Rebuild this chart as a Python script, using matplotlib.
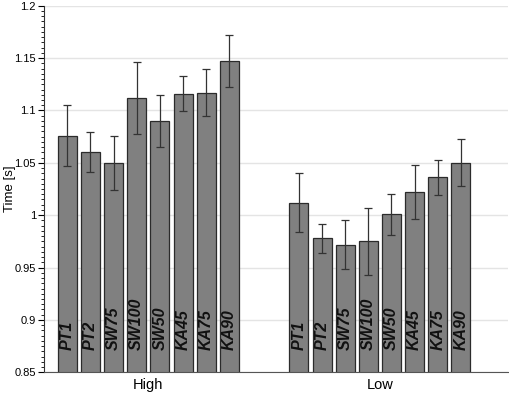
import numpy as np
import matplotlib
matplotlib.use('Agg')
import matplotlib.pyplot as plt
from matplotlib.ticker import MultipleLocator

plt.rcParams['font.family'] = ['Liberation Sans', 'DejaVu Sans']

groups = ['High', 'Low']
conditions = ['PT1', 'PT2', 'SW75', 'SW100', 'SW50', 'KA45', 'KA75', 'KA90']
high_mean = [1.076, 1.060, 1.050, 1.112, 1.090, 1.116, 1.117, 1.147]
high_err = [0.029, 0.019, 0.026, 0.034, 0.0245, 0.0167, 0.0225, 0.025]
low_mean = [1.012, 0.978, 0.972, 0.975, 1.001, 1.022, 1.036, 1.050]
low_err = [0.0285, 0.014, 0.023, 0.032, 0.0195, 0.026, 0.0168, 0.0225]

fig = plt.figure(figsize=(5.1, 3.94), dpi=100)
ax = fig.add_axes([0.087, 0.055, 0.909, 0.9305])

n = len(conditions)
gap = 2
for g, (means, errs) in enumerate([(high_mean, high_err), (low_mean, low_err)]):
    x = np.arange(n) + g * (n + gap)
    ax.bar(x, means, width=0.82, bottom=0, color='#808080',
           edgecolor='#2b2b2b', linewidth=0.9, zorder=2)
    ax.errorbar(x, means, yerr=errs, fmt='none', ecolor='#333333',
                elinewidth=0.9, capsize=3.2, capthick=0.9, zorder=3)
    for xi, name in zip(x, conditions):
        ax.text(xi, 0.871, name, rotation=90, ha='center', va='bottom',
                fontsize=11.5, fontweight='bold', fontstyle='italic',
                color='#111111', zorder=4)

ax.set_ylim(0.85, 1.2)
ax.set_xlim(-0.99, 19.03)
ax.yaxis.set_minor_locator(MultipleLocator(0.005))
ax.set_yticks([0.85, 0.9, 0.95, 1.0, 1.05, 1.1, 1.15, 1.2])
ax.set_yticklabels(['0.85', '0.9', '0.95', '1', '1.05', '1.1', '1.15', '1.2'])
ax.set_xticks([(n - 1) / 2, (n - 1) / 2 + n + gap])
ax.set_xticklabels(groups, fontsize=10.5)
ax.tick_params(axis='x', length=0, pad=4)
ax.tick_params(axis='y', which='major', length=4, width=0.8, labelsize=8, pad=2)
ax.tick_params(axis='y', which='minor', length=2.2, width=0.6)
ax.set_ylabel('Time [s]', fontsize=9.5)
ax.yaxis.set_label_coords(-0.062, 0.5)

ax.grid(axis='y', color='#e4e4e4', linewidth=1, zorder=0)
ax.set_axisbelow(True)
for s in ['top', 'right']:
    ax.spines[s].set_visible(False)
ax.spines['left'].set_color('#333333')
ax.spines['bottom'].set_color('#555555')

fig.savefig('out.png', dpi=100)
